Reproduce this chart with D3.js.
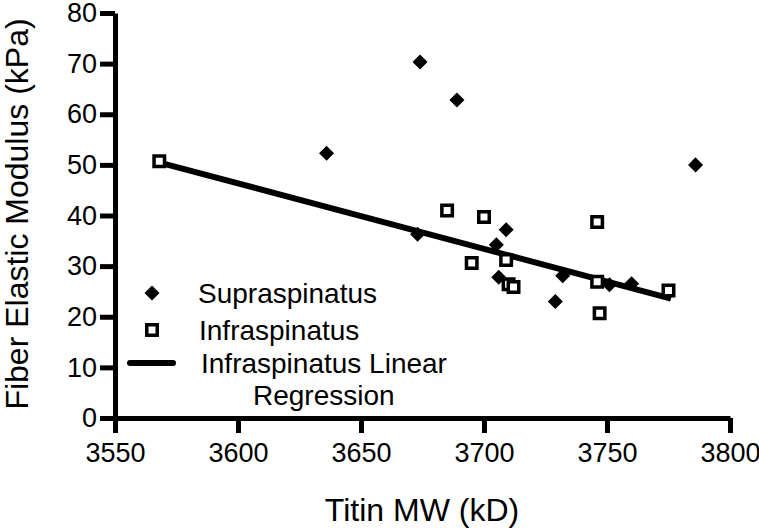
<!DOCTYPE html>
<html>
<head>
<meta charset="utf-8">
<script src="https://cdn.jsdelivr.net/npm/d3@7"></script>
<style>
  body { margin: 0; background: #fff; }
  text { font-family: "Liberation Sans", Arial, sans-serif; fill: #000; }
</style>
</head>
<body>
<div id="chart"></div>
<script>
// Supraspinatus points (Titin MW, modulus)
var supraX = [3636, 3674, 3689, 3673, 3705, 3709, 3706, 3729, 3732, 3751, 3760, 3786];
var supraY = [52.3, 70.3, 62.8, 36.3, 34.2, 37.2, 27.8, 23.0, 28.1, 26.3, 26.5, 50.0];
// Infraspinatus points
var infraX = [3568, 3685, 3700, 3695, 3709, 3710, 3712, 3746, 3746, 3747, 3775];
var infraY = [50.7, 41.0, 39.7, 30.6, 31.2, 26.4, 25.9, 38.7, 26.9, 20.7, 25.2];
// Infraspinatus linear regression end points
var regX = [3567, 3776];
var regY = [50.6, 23.6];

var xTicks = [3550, 3600, 3650, 3700, 3750, 3800];
var yTicks = [0, 10, 20, 30, 40, 50, 60, 70, 80];
var legendLabels = ["Supraspinatus", "Infraspinatus", "Infraspinatus Linear", "Regression"];

var w = 759,
  h = 532;

var svg = d3.select("#chart").append("svg")
  .attr("width", w)
  .attr("height", h);

var x = d3.scaleLinear().domain([3550, 3800]).range([115, 730]);
var y = d3.scaleLinear().domain([0, 80]).range([418, 13]);

// axes
var xAxis = svg.append("g")
  .attr("transform", "translate(0," + y(0) + ")")
  .call(d3.axisBottom(x).tickValues(xTicks).tickFormat(d3.format("d"))
    .tickSize(15).tickSizeOuter(0).tickPadding(10));

var yAxis = svg.append("g")
  .attr("transform", "translate(" + x(3550) + ",0)")
  .call(d3.axisLeft(y).tickValues(yTicks).tickSize(15).tickSizeOuter(0).tickPadding(3));

[xAxis, yAxis].forEach(function (g) {
  g.select(".domain").attr("stroke", "#000").attr("stroke-width", 5);
  g.selectAll(".tick line").attr("stroke", "#000").attr("stroke-width", 5);
  g.selectAll(".tick text")
    .attr("fill", "#000")
    .style("font-size", "27px")
    .style("font-family", "Liberation Sans, Arial, sans-serif");
});

// axis titles
svg.append("text")
  .attr("x", 422)
  .attr("y", 521)
  .attr("text-anchor", "middle")
  .style("font-size", "32px")
  .text("Titin MW (kD)");

svg.append("text")
  .attr("transform", "translate(28,214) rotate(-90)")
  .attr("text-anchor", "middle")
  .style("font-size", "32px")
  .text("Fiber Elastic Modulus (kPa)");

// regression line
var line = d3.line()
  .x(function (d) { return x(d[0]); })
  .y(function (d) { return y(d[1]); });

svg.append("path")
  .datum(d3.zip(regX, regY))
  .attr("d", line)
  .attr("fill", "none")
  .attr("stroke", "#000")
  .attr("stroke-width", 6);

var squareSym = d3.symbol().type(d3.symbolSquare).size(110);
var diamondSym = d3.symbol().type(d3.symbolSquare).size(113);

// infraspinatus squares
svg.selectAll(".infra")
  .data(d3.zip(infraX, infraY))
  .enter()
  .append("path")
  .attr("class", "infra")
  .attr("d", squareSym)
  .attr("transform", function (d) {
    return "translate(" + x(d[0]) + "," + y(d[1]) + ")";
  })
  .attr("fill", "#fff")
  .attr("stroke", "#000")
  .attr("stroke-width", 3.5);

// supraspinatus diamonds
svg.selectAll(".supra")
  .data(d3.zip(supraX, supraY))
  .enter()
  .append("path")
  .attr("class", "supra")
  .attr("d", diamondSym)
  .attr("transform", function (d) {
    return "translate(" + x(d[0]) + "," + y(d[1]) + ") rotate(45)";
  })
  .attr("fill", "#000");

// legend
var legend = svg.append("g");

legend.append("path")
  .attr("d", diamondSym)
  .attr("transform", "translate(152,293) rotate(45)")
  .attr("fill", "#000");

legend.append("path")
  .attr("d", squareSym)
  .attr("transform", "translate(152,330)")
  .attr("fill", "#fff")
  .attr("stroke", "#000")
  .attr("stroke-width", 3.5);

legend.append("line")
  .attr("x1", 130).attr("x2", 173)
  .attr("y1", 363).attr("y2", 363)
  .attr("stroke", "#000")
  .attr("stroke-width", 6)
  .attr("stroke-linecap", "round");

var legendPos = [[198, 303], [199, 340], [201, 373], [253, 405]];
legend.selectAll("text")
  .data(legendLabels)
  .enter()
  .append("text")
  .attr("x", function (d, i) { return legendPos[i][0]; })
  .attr("y", function (d, i) { return legendPos[i][1]; })
  .style("font-size", "28px")
  .text(function (d) { return d; });
</script>
</body>
</html>
